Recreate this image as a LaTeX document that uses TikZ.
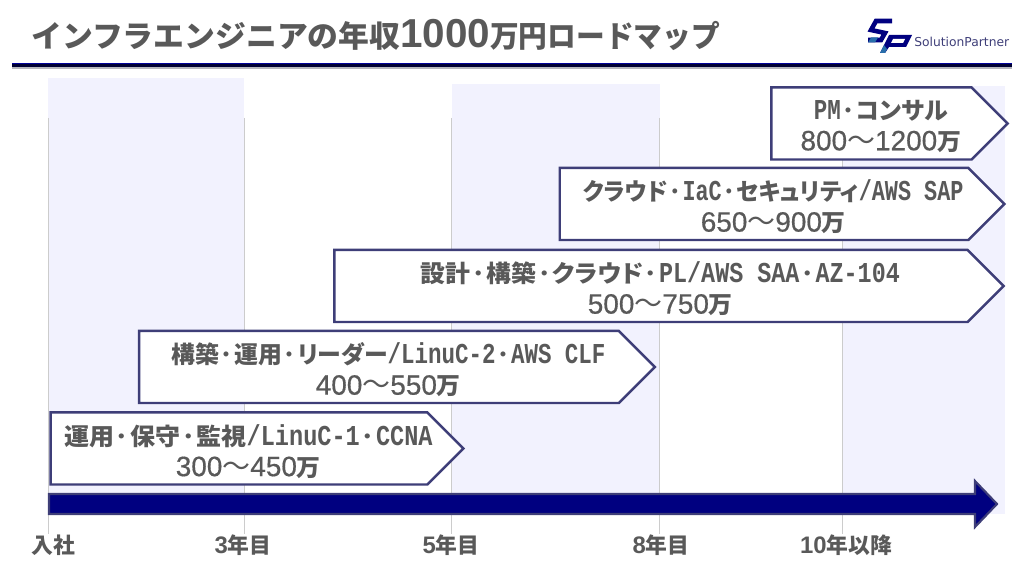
\documentclass[tikz,border=0pt]{standalone}
\usepackage{fontspec}
\setmainfont{Noto Sans CJK JP}
\newfontfamily\payfont[RawFeature=+palt]{Noto Sans CJK JP}
\newfontfamily\logofont{DejaVu Sans}
\newfontfamily\narrowfont[FakeStretch=0.78]{Liberation Mono}
\newfontfamily\digitfont{Liberation Sans}
\newfontfamily\midfont[FakeBold=0.5]{Liberation Sans}
\newcommand{\hw}[1]{{\narrowfont\fontsize{16.4}{17.6}\selectfont #1}}
\newcommand{\nm}[1]{{\midfont\fontsize{15.9}{17.6}\selectfont\mdseries #1}}
\newcommand{\wv}{{\fontsize{15.9}{17.6}\selectfont\mdseries 〜}}
\newcommand{\dt}{\makebox[8.8pt][c]{･}}
\newcommand{\ttl}[1]{{\digitfont\fontsize{23}{23}\selectfont #1}}
\newcommand{\yd}[1]{{\digitfont\fontsize{13.6}{14}\selectfont #1}}
\definecolor{bandblue}{RGB}{242,242,254}
\definecolor{linenavy}{RGB}{62,62,120}
\definecolor{axisnavy}{RGB}{0,0,128}
\definecolor{logoteal}{RGB}{40,110,170}
\definecolor{textgrey}{RGB}{89,89,89}
\usetikzlibrary{shapes,arrows,positioning}
\tikzset{
  band/.style={fill=bandblue,draw=none},
  tick/.style={draw=black!20,line width=0.5pt},
  pay/.style={signal,signal to=east,signal pointer angle=90,draw=linenavy,fill=white,
    line width=1.4pt,inner sep=0pt,minimum height=41pt},
  paytext/.style={inner sep=0pt,align=center,text=textgrey,
    font=\payfont\fontsize{13.6}{17.6}\selectfont\bfseries},
  year/.style={text=textgrey,font=\fontsize{12.4}{14}\selectfont\bfseries,inner sep=0pt}
}
\begin{document}
\begin{tikzpicture}[x=0.02cm,y=-0.02cm]
\useasboundingbox (0,0) rectangle (1024,573);

% bands
\fill [band] (48,78) rectangle (244,514);
\fill [band] (452,84) rectangle (660,514);
\fill [band] (842,86) rectangle (1005,514);
\coordinate (t0) at (48,118);
\coordinate (t1) at (244,118);
\coordinate (t2) at (451,118);
\coordinate (t3) at (659,118);
\coordinate (t4) at (842,118);
\node [year] (y0) at (53,545) {入社};
\node [year] (y1) at (243,545) {\yd{3}年目};
\node [year] (y2) at (451,545) {\yd{5}年目};
\node [year] (y3) at (661,545) {\yd{8}年目};
\node [year] (y4) at (846,545) {\yd{10}年以降};
\draw [tick] (t0) -- (t0 |- y0.north);
\draw [tick] (t1) -- (t1 |- y1.north);
\draw [tick] (t2) -- (t2 |- y2.north);
\draw [tick] (t3) -- (t3 |- y3.north);
\draw [tick] (t4) -- (t4 |- y4.north);

% title
\node [anchor=west,inner sep=0pt,text=textgrey,font=\fontsize{17.2}{20}\selectfont\bfseries] (title) at (31,35) {\scalebox{1.02}[1]{インフラエンジニアの年収}\ttl{1000}\scalebox{0.95}[1]{万円ロードマップ}};
\fill [black!25!bandblue] (12,67) rectangle (1012,69);
\fill [blue!60!black] (12,63) rectangle (1012,64.5);
\fill [black!80!blue] (12,64.5) rectangle (1012,67);

% logo
\draw [axisnavy,line width=2.6pt,line join=miter] (892,21) -- (876,21) -- (871,30) -- (885,33) -- (881,40) -- (868,40);
\fill [axisnavy] (880,53) -- (889,35) -- (912,35) -- (906,47) -- (889,47) -- (885,53) -- cycle;
\fill [white] (893,39) -- (905,39) -- (903,43) -- (891,43) -- cycle;
\fill [logoteal] (880,53) -- (884,45) -- (887,49) -- (885,53) -- cycle;
\fill [logoteal] (868,42.5) -- (875,42.5) -- (878,37.5) -- (871,37.5) -- cycle;
\node [anchor=west,inner sep=0pt,text=linenavy,font=\logofont\fontsize{7}{8}\selectfont] (logo) at (914,42) {SolutionPartner};

% pay arrows
\node [pay,minimum width=235pt] (p1) at (239,448.5) {};
\node [pay,minimum width=293.6pt] (p2) at (379,367) {};
\node [pay,minimum width=381pt] (p3) at (651,286) {};
\node [pay,minimum width=253pt] (p4) at (764,204) {};
\node [pay,minimum width=134.4pt] (p5) at (871.5,123.5) {};
\node [paytext] (l1) at ([xshift=5.3pt,yshift=-1.6pt]p1.center) {\scalebox{1.048}[1]{運用\dt 保守\dt 監視\hw{/LinuC-1}\dt\hw{CCNA}}\\\nm{300}\wv\nm{450}万};
\node [paytext] (l2) at ([xshift=5.3pt,yshift=-1.6pt]p2.center) {構築\dt 運用\dt リーダー\hw{/LinuC-2}\dt\hw{AWS CLF}\\\nm{400}\wv\nm{550}万};
\node [paytext] (l3) at ([xshift=5.3pt,yshift=-1.6pt]p3.center) {\scalebox{1.041}[1]{設計\dt 構築\dt クラウド\dt\hw{PL/AWS SAA}\dt\hw{AZ-104}}\\\nm{500}\wv\nm{750}万};
\node [paytext] (l4) at ([xshift=5.3pt,yshift=-1.6pt]p4.center) {\scalebox{0.97}[1]{クラウド\dt\hw{IaC}\dt セキュリティ\hw{/AWS SAP}}\\\nm{650}\wv\nm{900}万};
\node [paytext] (l5) at ([xshift=5.3pt,yshift=-1.6pt]p5.center) {\hw{PM}\dt コンサル\\\nm{800}\wv\nm{1200}万};

% axis
\filldraw [draw=linenavy,fill=axisnavy,line width=1.2pt] (49,494) -- (975,494) -- (975,481) -- (997,504) -- (975,527) -- (975,514) -- (49,514) -- cycle;
\end{tikzpicture}
\end{document}
